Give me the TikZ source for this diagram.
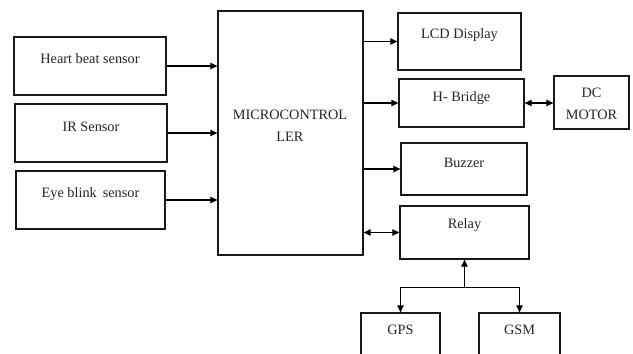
\documentclass[tikz,border=0pt]{standalone}
\usepackage{fontspec}
\setmainfont{Liberation Serif}
\usetikzlibrary{arrows.meta}
\begin{document}
\begin{tikzpicture}[x=1pt,y=-1pt,
  blk/.style={draw=black!90,line width=1.3pt,rectangle,inner sep=0pt},
  lbl/.style={inner sep=0pt,font=\fontsize{14.3}{16}\selectfont,align=center,text=black!85},
  arr/.style={line width=1.1pt,-{Triangle[length=7pt,width=6.5pt]}},
  darr/.style={line width=1.1pt,{Triangle[length=7pt,width=6.5pt]}-{Triangle[length=7pt,width=6.5pt]}}]
\clip (0,0) rectangle (633,354);
\fill[white] (0,0) rectangle (633,354);
% boxes
\node[blk,minimum width=152pt,minimum height=58pt] (hb) at (90,66) {};
\node[blk,minimum width=152pt,minimum height=58pt] (ir) at (91,133) {};
\node[blk,minimum width=149pt,minimum height=58pt] (eb) at (90.5,200) {};
\node[blk,minimum width=145pt,minimum height=244pt] (mc) at (290.5,133) {};
\node[blk,minimum width=123pt,minimum height=57pt] (lcd) at (459.5,41.5) {};
\node[blk,minimum width=125pt,minimum height=48pt] (hbr) at (461.5,103) {};
\node[blk,minimum width=75pt,minimum height=53pt] (dc) at (591.5,102.5) {};
\node[blk,minimum width=126pt,minimum height=52pt] (bz) at (464,169) {};
\node[blk,minimum width=129pt,minimum height=53pt] (rl) at (464.5,232.5) {};
\node[blk,minimum width=79pt,minimum height=60pt] (gps) at (400.5,343) {};
\node[blk,minimum width=81pt,minimum height=60pt] (gsm) at (519.5,343) {};
% labels
\node[lbl] (thb) at (90,59) {Heart beat sensor};
\node[lbl] (tir) at (91,127) {IR Sensor};
\node[lbl] (teb) at (90.5,194) {Eye blink\, sensor};
\node[lbl] (tmc1) at (290,115) {MICROCONTROL};
\node[lbl] (tmc2) at (290,137) {LER};
\node[lbl] (tlcd) at (459.5,35) {LCD Display};
\node[lbl] (thbr) at (461.5,98) {H- Bridge};
\node[lbl] (tdc1) at (591.5,93) {DC};
\node[lbl] (tdc2) at (591.5,115) {MOTOR};
\node[lbl] (tbz) at (464,163) {Buzzer};
\node[lbl] (trl) at (464.5,225) {Relay};
\node[lbl] (tgps) at (400.5,330) {GPS};
\node[lbl] (tgsm) at (519.5,330) {GSM};
% connectors
\draw[arr] (hb.east) -- (hb.east -| mc.west);
\draw[arr] (ir.east) -- (ir.east -| mc.west);
\draw[arr] (eb.east) -- (eb.east -| mc.west);
\draw[arr] (mc.east |- lcd.west) -- (lcd.west);
\draw[arr] (mc.east |- hbr.west) -- (hbr.west);
\draw[arr] (mc.east |- bz.west) -- (bz.west);
\draw[darr] (mc.east |- rl.west) -- (rl.west);
\draw[darr] (hbr.east) -- (dc.west |- hbr.east);
\coordinate (j) at ([yshift=-28pt]rl.south);
\draw[arr] (j) -- (rl.south);
\draw[arr] (j) -| (gps.north);
\draw[arr] (j) -| (gsm.north);
\end{tikzpicture}
\end{document}
